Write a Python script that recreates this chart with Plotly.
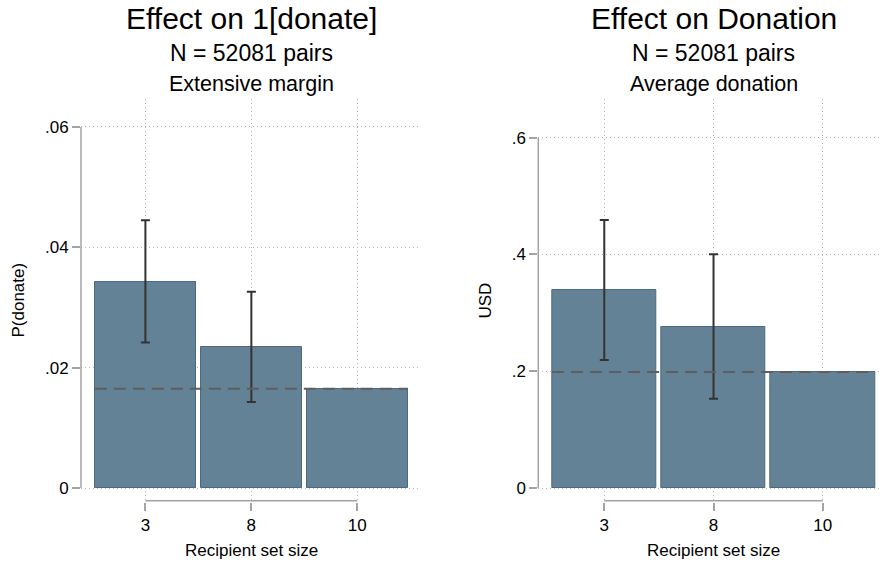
import plotly.graph_objects as go

# ---- data ----
categories = ["3", "8", "10"]
ext_values = [0.0343, 0.0234, 0.0165]
ext_ci_low = [0.0242, 0.0143]
ext_ci_high = [0.0445, 0.0326]
ext_control = 0.0165

don_values = [0.3386, 0.2763, 0.1987]
don_ci_low = [0.2192, 0.1530]
don_ci_high = [0.4590, 0.4003]
don_control = 0.1987

ext_ticks = [0, 0.02, 0.04, 0.06]
ext_ticktext = ["0", ".02", ".04", ".06"]
don_ticks = [0, 0.2, 0.4, 0.6]
don_ticktext = ["0", ".2", ".4", ".6"]

titles = ["Effect on 1[donate]", "Effect on Donation"]
subtitles1 = ["N = 52081 pairs", "N = 52081 pairs"]
subtitles2 = ["Extensive margin", "Average donation"]
ytitles = ["P(donate)", "USD"]
xtitle = "Recipient set size"

# ---- style ----
W, H = 880, 565
FONT = "Liberation Sans, Arial, Helvetica, sans-serif"
BAR_FILL = "#648296"
BAR_LINE = "#4a6a84"
AXIS_COL = "#a3a3a3"
GRID_COL = "#b5b5b5"
ERR_COL = "#333333"
DASH_COL = "#5e5e5e"
BW = 0.955

def px(xp):
    return xp / W

def py(yp):
    return 1 - yp / H

fig = go.Figure()

panels = [
    dict(vals=ext_values, lo=ext_ci_low, hi=ext_ci_high, ctrl=ext_control,
         ticks=ext_ticks, ticktext=ext_ticktext,
         xdom=[px(81), px(420)], xrange=[-0.608, 2.592],
         yrange=[-0.002327, 0.06465], ytx=18),
    dict(vals=don_values, lo=don_ci_low, hi=don_ci_high, ctrl=don_control,
         ticks=don_ticks, ticktext=don_ticktext,
         xdom=[px(538.3), 1.0], xrange=[-0.604, 2.524],
         yrange=[-0.02398, 0.6663], ytx=485),
]

ydom = [py(502), py(99)]
dom_h = (ydom[1] - ydom[0]) * H
shapes = []
annotations = []

for i, p in enumerate(panels):
    sfx = "" if i == 0 else str(i + 1)
    xa, ya = "x" + sfx, "y" + sfx
    fig.add_trace(go.Bar(
        x=categories, y=p["vals"], width=BW,
        marker=dict(color=BAR_FILL, line=dict(color=BAR_LINE, width=1)),
        xaxis=xa, yaxis=ya, showlegend=False, hoverinfo="skip"))
    n_ci = len(p["lo"])
    fig.add_trace(go.Scatter(
        x=categories[:n_ci], y=p["vals"][:n_ci], mode="markers",
        marker=dict(size=1, color="rgba(0,0,0,0)"),
        error_y=dict(type="data", symmetric=False,
                     array=[h - v for h, v in zip(p["hi"], p["vals"][:n_ci])],
                     arrayminus=[v - l for l, v in zip(p["lo"], p["vals"][:n_ci])],
                     color=ERR_COL, thickness=2, width=4.5),
        xaxis=xa, yaxis=ya, showlegend=False, hoverinfo="skip"))

    # dashed control-mean line across all bars
    shapes.append(dict(type="line", xref=xa, yref=ya,
                       x0=-BW / 2, x1=len(categories) - 1 + BW / 2,
                       y0=p["ctrl"], y1=p["ctrl"], layer="above",
                       line=dict(color=DASH_COL, width=2, dash="12px,7px")))
    # y axis line spanning tick range
    shapes.append(dict(type="line", xref=xa + " domain", yref=ya,
                       x0=0, x1=0, y0=min(p["ticks"]), y1=max(p["ticks"]),
                       line=dict(color=AXIS_COL, width=1.5)))
    # x axis line spanning first to last category
    shapes.append(dict(type="line", xref=xa, yref=ya + " domain",
                       x0=0, x1=len(categories) - 1, y0=1.2 / dom_h, y1=1.2 / dom_h,
                       line=dict(color=AXIS_COL, width=1.5)))

    xkey = "xaxis" + sfx
    ykey = "yaxis" + sfx
    fig.update_layout(**{
        xkey: dict(domain=p["xdom"], range=p["xrange"], anchor=ya,
                   type="category", showline=False, ticks="outside",
                   ticklen=8, tickwidth=1.5, tickcolor=AXIS_COL,
                   showgrid=True, griddash="1px,3px", gridcolor=GRID_COL, gridwidth=1,
                   tickfont=dict(family=FONT, size=17, color="black"),
                   zeroline=False, fixedrange=True),
        ykey: dict(domain=ydom, range=p["yrange"], anchor=xa,
                   tickvals=p["ticks"], ticktext=p["ticktext"],
                   showline=False, ticks="outside", ticklen=8, tickwidth=1.5,
                   tickcolor=AXIS_COL, showgrid=True, griddash="1px,3px",
                   gridcolor=GRID_COL, gridwidth=1, zeroline=False,
                   tickfont=dict(family=FONT, size=17, color="black"),
                   fixedrange=True),
    })

    # titles centred over the middle category
    for txt, yy, sz in [(titles[i], 18.5, 30), (subtitles1[i], 53.5, 23), (subtitles2[i], 84, 21.5)]:
        annotations.append(dict(text=txt, xref=xa, yref="paper", x=1, y=py(yy),
                                xanchor="center", yanchor="middle", showarrow=False,
                                font=dict(family=FONT, size=sz, color="black")))
    annotations.append(dict(text=xtitle, xref=xa, yref="paper", x=1, y=py(550),
                            xanchor="center", yanchor="middle", showarrow=False,
                            font=dict(family=FONT, size=17, color="black")))
    annotations.append(dict(text=ytitles[i], xref="paper", yref="paper",
                            x=px(p["ytx"]), y=py(300.5), textangle=-90,
                            xanchor="center", yanchor="middle", showarrow=False,
                            font=dict(family=FONT, size=17, color="black")))

fig.update_layout(width=W, height=H, margin=dict(l=0, r=0, t=0, b=0),
                  paper_bgcolor="white", plot_bgcolor="white",
                  bargap=0, shapes=shapes, annotations=annotations,
                  font=dict(family=FONT, color="black"))

fig.write_html("out.html", config={"displayModeBar": False},
               post_script="document.body.style.margin='0';document.body.style.overflow='hidden';")
